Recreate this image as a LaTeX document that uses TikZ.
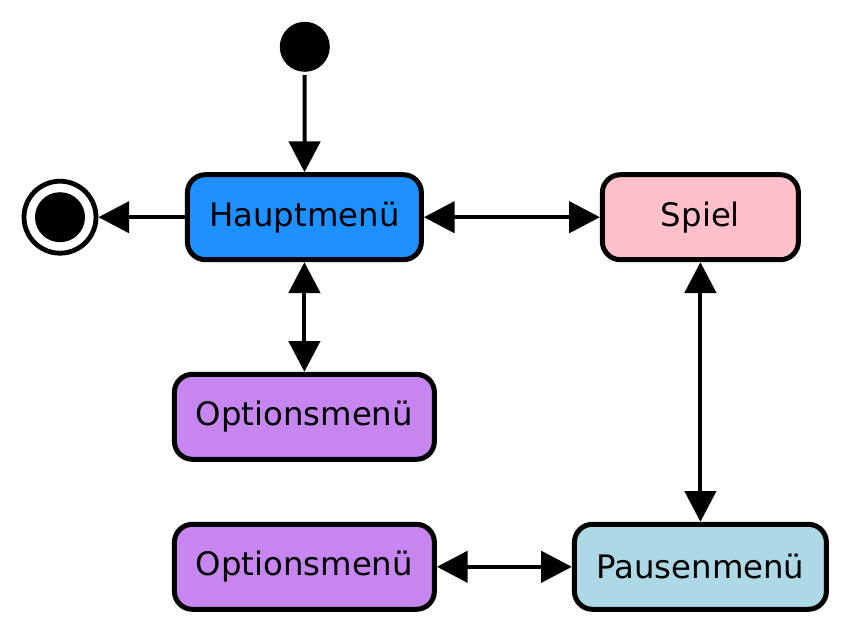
\documentclass[tikz,border=0pt]{standalone}
\usepackage{fontspec}
\setmainfont{DejaVu Sans}
\usepackage{xcolor}
\usetikzlibrary{arrows.meta,calc}
\definecolor{hauptblau}{HTML}{1E90FF}
\definecolor{spielrosa}{HTML}{FFC0CB}
\definecolor{optionlila}{HTML}{C785F0}
\definecolor{pausenblau}{HTML}{ADD8E6}
\begin{document}
\begin{tikzpicture}[state/.style={draw, line width=0.125cm, rectangle, rounded corners=0.45cm,
                    minimum height=2.125cm, font=\fontsize{23}{27}\selectfont},
                    dot/.style={circle, fill=black, inner sep=0pt, minimum size=1.25cm},
                    endring/.style={circle, draw, line width=0.12cm, inner sep=0pt, minimum size=1.8cm},
                    trans/.style={line width=0.1cm, -{Triangle[length=0.77cm, width=0.78cm]}},
                    both/.style={line width=0.1cm, {Triangle[length=0.77cm, width=0.78cm]}-{Triangle[length=0.77cm, width=0.78cm]}}]
\useasboundingbox (0,0) rectangle (21.30,-15.875);
\node[dot, outer sep=0.08cm] (init) at (7.62,-1.17) {};
\node[endring] (final) at (1.50,-5.43) {};
\node[dot] (finaldot) at (final) {};
\node[state, fill=hauptblau, minimum width=5.85cm] (hauptmenue) at (7.61,-5.43) {Hauptmenü};
\node[state, fill=spielrosa, minimum width=4.9cm] (spiel) at (17.51,-5.43) {Spiel};
\node[state, fill=optionlila, minimum width=6.5cm] (optionen) at (7.61,-10.42) {Optionsmenü};
\node[state, fill=optionlila, minimum width=6.5cm] (optionenpause) at (7.61,-14.17) {Optionsmenü};
\node[state, fill=pausenblau, minimum width=6.3cm] (pause) at (17.51,-14.17) {Pausenmenü};
\draw[trans] (init) -- (hauptmenue);
\draw[trans] (hauptmenue) -- (final);
\draw[both] (hauptmenue) -- (spiel);
\draw[both] (hauptmenue) -- (optionen);
\draw[both] (spiel) -- (pause);
\draw[both] (optionenpause) -- (pause);
\end{tikzpicture}
\end{document}
